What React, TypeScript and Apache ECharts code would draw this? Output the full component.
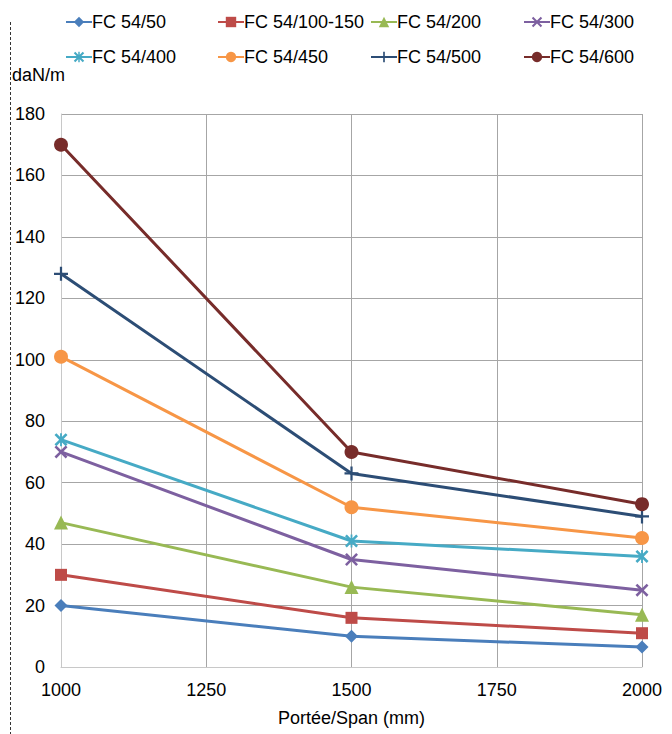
import React, { useEffect, useRef } from "react";
import * as echarts from "echarts";

const spans = [1000, 1500, 2000];
const seriesNames = [
  "FC 54/50",
  "FC 54/100-150",
  "FC 54/200",
  "FC 54/300",
  "FC 54/400",
  "FC 54/450",
  "FC 54/500",
  "FC 54/600",
];
const fc50 = [20, 10, 6.5];
const fc100 = [30, 16, 11];
const fc200 = [47, 26, 17];
const fc300 = [70, 35, 25];
const fc400 = [74, 41, 36];
const fc450 = [101, 52, 42];
const fc500 = [128, 63, 49];
const fc600 = [170, 70, 53];
const allValues = [fc50, fc100, fc200, fc300, fc400, fc450, fc500, fc600];

const colors = ["#4A7EBB", "#BE4B48", "#98B954", "#7D60A0", "#46AAC5", "#F79646", "#2C4D75", "#772C2A"];

const X_PATH = "path://M0,1.4 L1.4,0 L5,3.6 L8.6,0 L10,1.4 L6.4,5 L10,8.6 L8.6,10 L5,6.4 L1.4,10 L0,8.6 L3.6,5 Z";
const PLUS_PATH = "path://M4.2,0 H5.8 V4.2 H10 V5.8 H5.8 V10 H4.2 V5.8 H0 V4.2 H4.2 Z";
const STAR_PATH =
  "path://M0,1.4 L1.4,0 L5,3.6 L8.6,0 L10,1.4 L6.4,5 L10,8.6 L8.6,10 L5,6.4 L1.4,10 L0,8.6 L3.6,5 Z M4.3,0 H5.7 V10 H4.3 Z";

const symbols = ["diamond", "rect", "triangle", X_PATH, STAR_PATH, "circle", PLUS_PATH, "circle"];
const symbolSizes = [13, 12, 14, 13, 13, 14, 14, 14];

const FONT = "'Liberation Sans', Arial, sans-serif";

export default function App() {
  const ref = useRef<HTMLDivElement>(null);
  useEffect(() => {
    if (!ref.current) return;
    const chart = echarts.init(ref.current, undefined, { renderer: "svg" });
    const legendLefts = [65, 217, 370, 523];
    const legendTops = [13, 48];
    const legends = seriesNames.map((name, i) => ({
      data: [name],
      left: legendLefts[i % 4],
      top: legendTops[Math.floor(i / 4)],
      itemWidth: 26,
      itemHeight: 13,
      padding: 0,
      textStyle: { fontFamily: FONT, fontSize: 18, color: "#000", padding: [0, 0, 0, -5] },
    }));
    chart.setOption({
      animation: false,
      color: colors,
      textStyle: { fontFamily: FONT },
      legend: legends,
      grid: { left: 61, right: 30, top: 114, bottom: 67, containLabel: false },
      xAxis: {
        type: "value",
        min: 1000,
        max: 2000,
        interval: 250,
        name: "Portée/Span (mm)",
        nameLocation: "middle",
        nameGap: 42,
        nameTextStyle: { fontFamily: FONT, fontSize: 18, color: "#000" },
        axisLine: { show: true, lineStyle: { color: "#c8c8c8", width: 1 } },
        axisTick: { show: false },
        axisLabel: {
          fontFamily: FONT,
          fontSize: 18,
          color: "#000",
          margin: 14,
          formatter: (v: number) => String(v),
        },
        splitLine: { show: true, lineStyle: { color: "#a6a6a6", width: 1 } },
      },
      yAxis: {
        type: "value",
        min: 0,
        max: 180,
        interval: 20,
        axisLine: { show: true, lineStyle: { color: "#c8c8c8", width: 1 } },
        axisTick: { show: false },
        axisLabel: { fontFamily: FONT, fontSize: 18, color: "#000", margin: 16 },
        splitLine: { show: true, lineStyle: { color: "#a6a6a6", width: 1 } },
      },
      graphic: [
        {
          type: "line",
          shape: { x1: 10.5, y1: 22, x2: 10.5, y2: 734 },
          style: { stroke: "#333", lineWidth: 1, lineDash: [3, 2] },
        },
        {
          type: "text",
          left: 12,
          top: 66,
          style: { text: "daN/m", fontFamily: FONT, fontSize: 18, fill: "#000" },
        },
      ],
      series: seriesNames.map((name, i) => ({
        name,
        type: "line",
        data: spans.map((s, j) => [s, allValues[i][j]]),
        symbol: symbols[i],
        symbolSize: symbolSizes[i],
        showAllSymbol: true,
        lineStyle: { width: 3, color: colors[i] },
        itemStyle: { color: colors[i] },
        z: 2 + i,
      })),
    });
    return () => chart.dispose();
  }, []);
  return <div ref={ref} style={{ width: 672, height: 734, position: "absolute", left: 0, top: 0 }} />;
}
